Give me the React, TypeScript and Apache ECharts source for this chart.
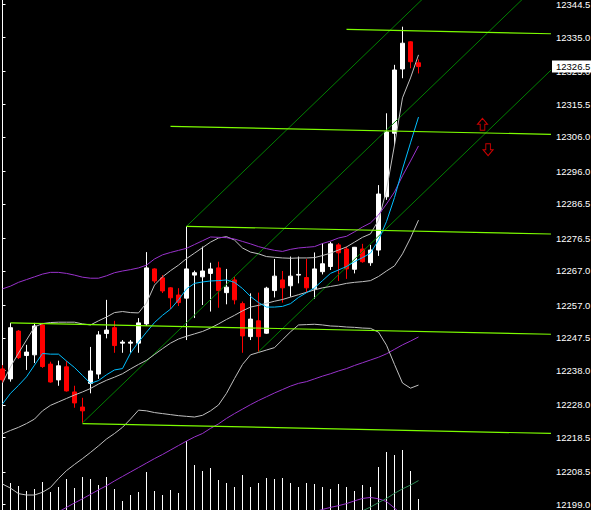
import React, { useEffect, useRef } from "react";
import * as echarts from "echarts";

// [open, close, low, high] per bar
const ohlc: number[][] = [
  [12238.5, 12235.3, 12234.4, 12239.6],
  [12235.6, 12250.5, 12234.8, 12251.9],
  [12249.5, 12241.8, 12241.4, 12249.8],
  [12242.4, 12243.4, 12238.2, 12245.5],
  [12242.6, 12251.0, 12240.2, 12251.9],
  [12251.3, 12239.2, 12238.8, 12251.9],
  [12239.9, 12234.7, 12234.5, 12240.6],
  [12235.3, 12239.4, 12233.6, 12240.9],
  [12239.1, 12232.1, 12231.9, 12240.8],
  [12231.8, 12228.6, 12227.2, 12233.6],
  [12227.4, 12226.3, 12222.8, 12230.1],
  [12234.3, 12237.9, 12231.4, 12244.9],
  [12237.0, 12248.4, 12235.6, 12249.5],
  [12248.8, 12249.8, 12247.4, 12258.6],
  [12250.5, 12245.3, 12243.2, 12252.5],
  [12246.0, 12246.3, 12243.2, 12246.9],
  [12246.0, 12246.3, 12243.2, 12246.9],
  [12246.0, 12251.9, 12243.2, 12253.3],
  [12251.6, 12267.9, 12251.0, 12272.5],
  [12267.6, 12264.1, 12263.5, 12267.8],
  [12265.0, 12261.2, 12260.6, 12265.8],
  [12262.1, 12259.2, 12255.9, 12262.3],
  [12260.0, 12257.8, 12256.8, 12262.0],
  [12259.1, 12267.6, 12246.9, 12280.0],
  [12265.8, 12266.5, 12253.3, 12267.1],
  [12265.3, 12267.0, 12257.1, 12274.1],
  [12266.3, 12267.6, 12255.2, 12269.4],
  [12267.9, 12261.3, 12256.3, 12269.7],
  [12260.7, 12262.3, 12257.3, 12267.6],
  [12264.4, 12258.6, 12257.3, 12265.3],
  [12257.5, 12248.1, 12243.2, 12258.1],
  [12247.9, 12253.0, 12246.9, 12260.5],
  [12252.5, 12247.9, 12243.5, 12260.7],
  [12248.9, 12262.0, 12248.7, 12262.4],
  [12261.3, 12265.5, 12259.3, 12270.5],
  [12264.4, 12262.1, 12257.8, 12267.0],
  [12262.7, 12265.5, 12259.5, 12271.2],
  [12265.8, 12266.0, 12263.4, 12271.2],
  [12265.1, 12262.1, 12260.8, 12270.5],
  [12261.8, 12267.6, 12258.9, 12272.4],
  [12266.8, 12269.1, 12266.0, 12275.1],
  [12268.3, 12274.9, 12267.3, 12275.5],
  [12274.6, 12272.3, 12264.1, 12275.1],
  [12273.4, 12267.6, 12264.7, 12274.1],
  [12267.5, 12273.9, 12266.3, 12274.0],
  [12273.4, 12269.7, 12269.4, 12274.9],
  [12269.4, 12273.1, 12268.5, 12274.6],
  [12273.1, 12289.4, 12271.4, 12292.0],
  [12288.6, 12307.5, 12287.7, 12312.9],
  [12307.1, 12325.5, 12303.7, 12327.0],
  [12325.8, 12333.3, 12323.1, 12338.1],
  [12333.7, 12327.9, 12326.0, 12333.9],
  [12327.6, 12326.5, 12324.5, 12328.6],
];

const volumes = [
  15, 27, 24, 19, 21, 28, 18, 23, 31, 22, 33, 31, 25, 33, 21, 9, 15, 18, 38, 19,
  15, 20, 17, 69, 45, 39, 42, 30, 27, 23, 35, 23, 27, 32, 31, 32, 27, 23, 27, 26,
  23, 21, 26, 23, 19, 25, 23, 43, 58, 55, 60, 39, 11,
];

const bandUpper = [
  12234.4, 12239.1, 12243.1, 12246.9, 12250.7, 12251.7, 12252.0, 12252.1, 12252.1, 12252.1,
  12251.6, 12251.3, 12252.5, 12253.6, 12254.9, 12255.2, 12254.9, 12254.8, 12257.7, 12262.9,
  12265.3, 12267.1, 12268.7, 12270.6, 12272.2, 12273.8, 12275.4, 12276.6, 12277.0, 12276.0,
  12273.7, 12272.5, 12272.0, 12271.2, 12271.0, 12270.8, 12270.7, 12270.8, 12270.8, 12270.9,
  12271.5, 12272.2, 12273.1, 12274.0, 12275.4, 12276.8, 12277.8, 12281.8, 12290.6, 12303.7,
  12317.4, 12323.2, 12329.9,
];

const bandMiddle = [
  12219.6, 12220.6, 12221.5, 12222.6, 12223.9, 12226.3, 12227.9, 12228.9, 12229.9, 12230.9,
  12231.8, 12232.8, 12234.1, 12235.2, 12236.1, 12237.1, 12238.5, 12239.8, 12241.0, 12242.7,
  12244.4, 12246.0, 12247.2, 12248.0, 12248.7, 12249.4, 12250.4, 12251.6, 12252.9, 12254.1,
  12255.4, 12256.5, 12257.0, 12257.6, 12258.2, 12258.7, 12259.4, 12260.1, 12260.8, 12261.5,
  12262.1, 12262.5, 12262.9, 12263.4, 12263.7, 12263.9, 12264.2, 12265.4, 12267.0, 12268.5,
  12272.0, 12276.6, 12281.8,
];

const bandLower = [
  12205.0, 12203.8, 12202.2, 12201.8, 12201.8, 12202.6, 12204.0, 12206.6, 12208.9, 12210.7,
  12212.4, 12214.2, 12216.1, 12218.1, 12219.7, 12221.5, 12223.9, 12226.5, 12226.3, 12225.8,
  12225.5, 12225.2, 12224.9, 12224.7, 12224.5, 12225.0, 12226.3, 12228.0, 12231.4, 12235.7,
  12239.8, 12242.6, 12243.3, 12244.0, 12244.7, 12247.0, 12249.3, 12251.3, 12251.4, 12251.5,
  12251.3, 12251.0, 12250.9, 12250.7, 12250.6, 12250.4, 12250.3, 12249.2, 12245.4, 12239.8,
  12234.4, 12232.9, 12233.8,
];

const fastMA = [
  12228.3, 12231.4, 12233.7, 12236.2, 12239.6, 12243.0, 12242.8, 12242.8, 12240.8, 12238.9,
  12236.6, 12234.3, 12235.1, 12236.8, 12238.2, 12238.6, 12243.1, 12246.3, 12249.2, 12252.0,
  12254.1, 12255.9, 12258.6, 12261.8, 12263.4, 12263.8, 12264.1, 12264.2, 12264.4, 12263.7,
  12261.9, 12259.6, 12257.8, 12256.5, 12256.5, 12256.7, 12257.5, 12259.3, 12260.7, 12262.1,
  12264.2, 12266.3, 12267.3, 12268.3, 12269.7, 12270.9, 12272.2, 12276.0, 12281.4, 12288.4,
  12296.7, 12304.3, 12311.8,
];

const envelopeUpper = [
  12261.8, 12262.6, 12263.7, 12264.5, 12265.3, 12266.1, 12266.6, 12266.6, 12266.3, 12265.8,
  12265.2, 12264.9, 12264.9, 12265.6, 12266.5, 12267.0, 12267.4, 12267.9, 12268.7, 12270.5,
  12271.7, 12272.4, 12273.0, 12273.6, 12274.7, 12275.8, 12276.9, 12276.8, 12276.7, 12276.3,
  12275.6, 12274.9, 12274.1, 12273.5, 12273.0, 12272.7, 12273.3, 12273.7, 12273.9, 12274.1,
  12275.0, 12275.7, 12276.6, 12277.1, 12278.4, 12279.8, 12281.0, 12283.3, 12286.5, 12290.0,
  12294.7, 12299.0, 12303.4,
];

const slowMA = [
  12187.3, 12188.7, 12190.2, 12191.6, 12193.1, 12194.5, 12195.7, 12196.9, 12198.2, 12199.5,
  12200.7, 12202.0, 12203.3, 12204.5, 12205.9, 12207.2, 12208.5, 12209.8, 12211.1, 12212.4,
  12213.6, 12214.9, 12216.2, 12217.5, 12218.7, 12219.7, 12221.2, 12222.5, 12224.1, 12225.5,
  12226.8, 12228.1, 12229.3, 12230.4, 12231.5, 12232.5, 12233.5, 12234.3, 12234.8, 12235.6,
  12236.4, 12237.1, 12237.9, 12238.6, 12239.5, 12240.3, 12241.1, 12241.9, 12242.9, 12244.2,
  12245.5, 12246.6, 12247.8,
];

const bumpStart = 39;
const bumpLine = [12196.9, 12197.6, 12198.2, 12198.7, 12199.3, 12200.1, 12200.8, 12201.1, 12200.7, 12199.9, 12198.0, 12196.0];

const tealStart = 45;
const tealLine = [12197.2, 12198.3, 12199.6, 12200.8, 12202.3, 12203.6, 12204.7, 12206.0];

const tickValues = [
  12199.0, 12208.5, 12218.5, 12228.0, 12238.0, 12247.5, 12257.0, 12267.0,
  12276.5, 12286.5, 12296.0, 12306.0, 12315.5, 12325.0, 12335.0, 12344.5,
];
const lastPrice = 12326.5;

// trend channel: anchor bar, anchor price; slope in price per bar
const channelStarts = [23, 10, 32];
const channelPrices = [12280.0, 12222.8, 12243.5];
const channelSlope = 2.242;

// horizontal levels: anchor bar, anchor price; drift in price per bar
const levelStarts = [43, 21, 23, 1, 10];
const levelPrices = [12337.3, 12309.1, 12280.0, 12251.9, 12222.6];
const levelDrift = -0.049;

const arrowsUp = [[60.0, 12309.7]];
const arrowsDown = [[60.7, 12302.3]];

const X_MIN = -0.3125;
const X_MAX = 68.5625;
const Y_MIN = 12197.44;
const Y_MAX = 12345.87;
const VOL_AXIS_MAX = 510;

const FONT = "'Liberation Sans', Arial, sans-serif";

export default function App() {
  const ref = useRef<HTMLDivElement>(null);
  useEffect(() => {
    document.body.style.margin = "0";
    document.body.style.background = "#000";
    const chart = echarts.init(ref.current!, undefined, { renderer: "svg" });

    const lineSeries = (data: any[], color: string, z = 5, width = 1) => ({
      type: "line",
      data,
      xAxisIndex: 0,
      yAxisIndex: 0,
      symbol: "none",
      showSymbol: false,
      silent: true,
      clip: true,
      z,
      lineStyle: { color, width },
      connectNulls: false,
    });
    const idx = (arr: number[], start = 0) => arr.map((v, i) => [start + i, v]);

    const channels = channelStarts.map((s, i) =>
      lineSeries(
        [
          [s, channelPrices[i]],
          [X_MAX, channelPrices[i] + channelSlope * (X_MAX - s)],
        ],
        "#008000",
        4
      )
    );
    const levels = levelStarts.map((s, i) =>
      lineSeries(
        [
          [s, levelPrices[i]],
          [X_MAX, levelPrices[i] + levelDrift * (X_MAX - s)],
        ],
        "#7CFC00",
        6,
        1.2
      )
    );

    const upPath = "path://M5 0 L10 6 L7.3 6 L7.3 12 L2.7 12 L2.7 6 L0 6 Z";
    const downPath = "path://M2.7 0 L7.3 0 L7.3 6 L10 6 L5 12 L0 6 L2.7 6 Z";

    chart.setOption({
      animation: false,
      backgroundColor: "#000",
      grid: {
        left: 0,
        right: 40,
        top: 0,
        bottom: 0,
        containLabel: false,
        outerBoundsMode: "none",
      },
      xAxis: {
        type: "value",
        min: X_MIN,
        max: X_MAX,
        show: false,
        splitLine: { show: false },
      },
      yAxis: [
        {
          type: "value",
          position: "right",
          min: Y_MIN,
          max: Y_MAX,
          splitLine: { show: false },
          axisLine: { show: true, lineStyle: { color: "#ffffff", width: 1 } },
          axisTick: { show: true, length: 3, customValues: tickValues, lineStyle: { color: "#ffffff" } },
          axisLabel: {
            customValues: tickValues,
            color: "#ffffff",
            margin: 5,
            fontSize: 9.5,
            fontFamily: FONT,
            formatter: (v: number) => v.toFixed(1),
          },
        },
        { type: "value", min: 0, max: VOL_AXIS_MAX, show: false },
        {
          type: "value",
          position: "right",
          min: Y_MIN,
          max: Y_MAX,
          z: 10,
          splitLine: { show: false },
          axisLine: { show: false },
          axisTick: { show: false },
          axisLabel: {
            customValues: [lastPrice],
            color: "#000000",
            backgroundColor: "#ffffff",
            padding: [1, 4, 1, 4],
            margin: 1,
            fontSize: 9.5,
            fontFamily: FONT,
            formatter: (v: number) => v.toFixed(1),
          },
        },
      ],
      series: [
        {
          type: "custom",
          xAxisIndex: 0,
          yAxisIndex: 1,
          data: idx(volumes),
          silent: true,
          z: 1,
          clip: true,
          renderItem: (params: any, api: any) => {
            const x = api.value(0);
            const v = api.value(1);
            const top = api.coord([x, v]);
            const bottom = api.coord([x, 0]);
            return {
              type: "rect",
              shape: { x: top[0] - 0.5, y: top[1], width: 1, height: bottom[1] - top[1] },
              style: { fill: "#ffffff" },
            };
          },
        },
        ...channels,
        {
          type: "candlestick",
          data: ohlc.map((c, i) => [i, c[0], c[1], c[2], c[3]]),
          encode: { x: 0, y: [1, 2, 3, 4] },
          xAxisIndex: 0,
          yAxisIndex: 0,
          barWidth: 4,
          silent: true,
          z: 3,
          itemStyle: {
            color: "#ffffff",
            color0: "#ff0000",
            borderColor: "#ffffff",
            borderColor0: "#ff0000",
            borderWidth: 1,
          },
        },
        lineSeries(idx(slowMA), "#9932CC"),
        lineSeries(idx(bumpLine, bumpStart), "#9932CC"),
        lineSeries(idx(tealLine, tealStart), "#2E8B57"),
        lineSeries(idx(bandLower), "#C0C0C0"),
        lineSeries(idx(bandMiddle), "#C0C0C0"),
        lineSeries(idx(bandUpper), "#C0C0C0"),
        lineSeries(idx(envelopeUpper), "#9932CC"),
        lineSeries(idx(fastMA), "#00BFFF"),
        ...levels,
        {
          type: "scatter",
          data: arrowsUp,
          symbol: upPath,
          symbolSize: [10, 12],
          silent: true,
          z: 7,
          itemStyle: { color: "#000000", borderColor: "#ff0000", borderWidth: 1 },
        },
        {
          type: "scatter",
          data: arrowsDown,
          symbol: downPath,
          symbolSize: [10, 12],
          silent: true,
          z: 7,
          itemStyle: { color: "#000000", borderColor: "#ff0000", borderWidth: 1 },
        },
      ],
    });
    return () => chart.dispose();
  }, []);
  return <div ref={ref} style={{ width: 591, height: 510, background: "#000" }} />;
}
